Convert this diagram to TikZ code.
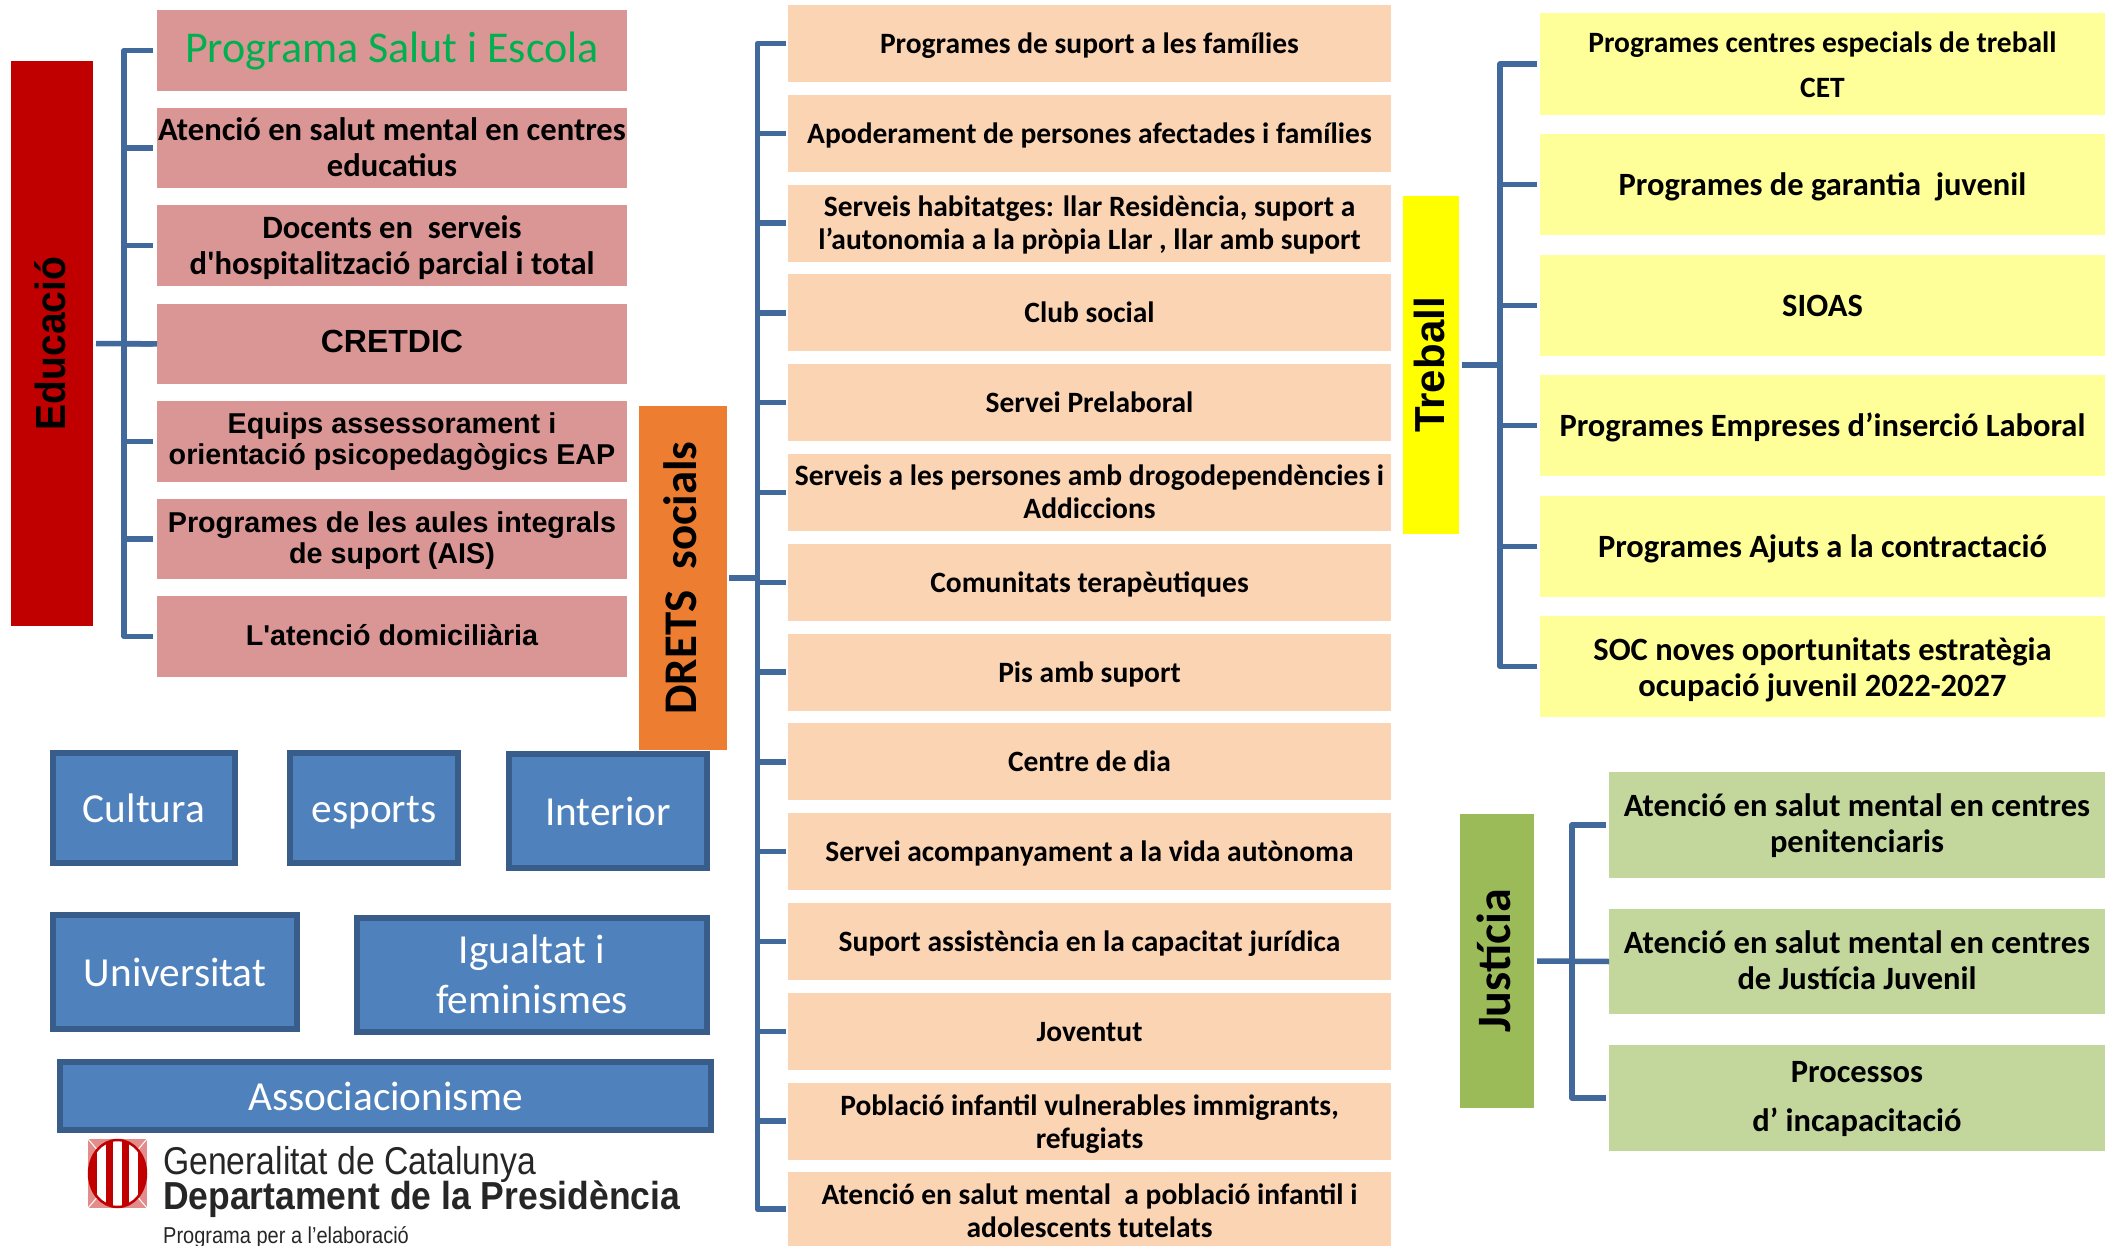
\documentclass[tikz,border=0pt]{standalone}
\usepackage{graphicx}
\usepackage{fontspec}
\setmainfont{Carlito}
\newfontfamily\cb{Carlito}[BoldFont=Carlito Bold]
\newfontfamily\ar{Liberation Sans}
\newcommand{\fs}[2]{\fontsize{#1}{#2}\selectfont}
\newcommand{\lowstrut}{\rule[-.2\baselineskip]{0pt}{\baselineskip}}
\newcommand{\topx}[1]{\rule{0pt}{#1pt}}
\definecolor{conn}{HTML}{41699C}
\definecolor{pinkb}{HTML}{D99694}
\definecolor{peach}{HTML}{FBD4B4}
\definecolor{yelb}{HTML}{FFFF99}
\definecolor{yelroot}{HTML}{FFFF00}
\definecolor{grnb}{HTML}{C3D69B}
\definecolor{grnroot}{HTML}{9BBB59}
\definecolor{orangeroot}{HTML}{ED7D31}
\definecolor{salut}{HTML}{00B050}
\definecolor{bluef}{HTML}{4F81BD}
\definecolor{blued}{HTML}{385D8A}
\definecolor{catred}{HTML}{C00000}
\newcommand{\bx}[7][]{%
  \pgfmathsetmacro\bw{#5-#3}\pgfmathsetmacro\bh{#6-#4}%
  \node[#1,minimum width=\bw pt,minimum height=\bh pt] (#2) at ({(#3+#5)/2},{-(#4+#6)/2}) {#7};}
\newcommand{\rx}[7][]{%
  \pgfmathsetmacro\bw{#5-#3}\pgfmathsetmacro\bh{#6-#4}%
  \node[#1,rotate=90,minimum width=\bh pt,minimum height=\bw pt] (#2) at ({(#3+#5)/2},{-(#4+#6)/2}) {#7};}
\tikzset{
  base/.style={inner sep=0pt,outer sep=0pt,align=center,text=black,execute at begin node=\lowstrut,execute at end node=\lowstrut},
  pinkbox/.style={base,fill=pinkb},
  peachbox/.style={base,fill=peach,font=\cb\bfseries\fs{29.5}{33}},
  yelbox/.style={base,fill=yelb,font=\cb\bfseries\fs{32.5}{36}},
  grnbox/.style={base,fill=grnb,font=\cb\bfseries\fs{32.5}{36}},
  bluebox/.style={base,fill=bluef,draw=blued,line width=5.5pt,text=white,font=\cb\fs{41.3}{47}},
  rootbox/.style={base,font=\ar\bfseries\fs{42}{44}},
  cline/.style={draw=conn,line width=5.5pt,line join=round},
  logotext/.style={inner sep=0pt,anchor=west,text=black!85}
}
\begin{document}
\begin{tikzpicture}[x=1pt,y=1pt]
\useasboundingbox (0,0) rectangle (2110,-1246);
% Educacio
\rx[rootbox,fill=catred,font=\ar\bfseries\fs{39}{44}]{edu}{11}{61}{93}{626}{\scalebox{1}[1.08]{Educació}}
\bx[pinkbox,text=salut,font=\cb\fs{44}{41}]{e1}{157}{10}{627}{91}{Programa Salut i Escola}
\bx[pinkbox,font=\cb\bfseries\fs{32.6}{36}]{e2}{157}{108}{627}{188}{\topx{28.3}Atenció en salut mental en centres\\educatius}
\bx[pinkbox,font=\cb\bfseries\fs{32.6}{36}]{e3}{157}{205}{627}{286}{\topx{29.3}Docents en\ \ serveis\\d'hospitalització parcial i total}
\bx[pinkbox,font=\ar\bfseries\fs{32}{28}]{e4}{157}{304}{627}{384}{CRETDIC}
\bx[pinkbox,font=\ar\bfseries\fs{28.7}{31}]{e5}{157}{401}{627}{482}{Equips assessorament i\\orientació psicopedagògics EAP}
\bx[pinkbox,font=\ar\bfseries\fs{28.7}{31}]{e6}{157}{499}{627}{579}{\topx{24}Programes de les aules integrals\\de suport (AIS)}
\bx[pinkbox,font=\ar\bfseries\fs{28.7}{31}]{e7}{157}{596}{627}{677}{L'atenció domiciliària}
\coordinate (eb) at (124,-343.5);
\draw[cline] (edu.south) ++(3,0) -- (e4.west);
\foreach \n in {e1,e2,e3,e5,e6,e7} \draw[cline,shorten >=4pt] (eb) |- (\n.west);
\draw[cline,shorten >=4pt] (eb) -- (e4.west);
% Drets
\rx[rootbox,fill=orangeroot,font=\cb\bfseries\fs{46.8}{44}]{dr}{639}{406}{727}{750}{DRETS\ \ socials}
\foreach \i/\t in {0/{Programes de suport a les famílies},
  1/{Apoderament de persones afectades i famílies},
  2/{\topx{26.3}Serveis habitatges: llar Residència, suport a\\l’autonomia a la pròpia Llar , llar amb suport},
  3/{Club social},
  4/{Servei Prelaboral},
  5/{\topx{25}Serveis a les persones amb drogodependències i\\Addiccions},
  6/{Comunitats terapèutiques},
  7/{Pis amb suport},
  8/{Centre de dia},
  9/{Servei acompanyament a la vida autònoma},
  10/{Suport assistència en la capacitat jurídica},
  11/{Joventut},
  12/{\topx{27.7}Població infantil vulnerables immigrants,\\refugiats},
  13/{\topx{30.3}Atenció en salut mental\ \ a població infantil i\\adolescents tutelats}}{
  \pgfmathsetmacro\ya{5+89.8*\i}
  \pgfmathsetmacro\yb{min(\ya+77,1246)}
  \bx[peachbox]{m\i}{788}{\ya}{1391}{\yb}{\t}
}
\coordinate (db) at (757.5,-578);
\draw[cline] (dr.south) ++(2,0) -- (db);
\foreach \i in {0,...,13} \draw[cline,shorten >=2.5pt] (db) |- (m\i.west);
% Treball
\rx[rootbox,fill=yelroot]{tr}{1403}{196}{1459}{534}{Treball}
\bx[yelbox,font=\cb\bfseries\fs{29.5}{45}]{t1}{1540}{13}{2105}{115}{\topx{31}Programes centres especials de treball\\CET}
\bx[yelbox]{t2}{1540}{134}{2105}{235}{Programes de garantia\ \ juvenil}
\bx[yelbox]{t3}{1540}{255}{2105}{356}{SIOAS}
\bx[yelbox]{t4}{1540}{375}{2105}{476}{Programes Empreses d’inserció Laboral}
\bx[yelbox]{t5}{1540}{496}{2105}{597}{Programes Ajuts a la contractació}
\bx[yelbox]{t6}{1540}{616}{2105}{717}{\topx{31}SOC noves oportunitats estratègia\\ocupació juvenil 2022-2027}
\coordinate (tb) at (1500,-365);
\draw[cline] (tr.south) ++(3,0) -- (tb);
\foreach \n in {t1,t2,t3,t4,t5,t6} \draw[cline,shorten >=3pt] (tb) |- (\n.west);
% Justicia
\rx[rootbox,fill=grnroot,font=\cb\bfseries\fs{48}{44}]{ju}{1460}{814}{1534}{1108}{Justícia}
\bx[grnbox]{j1}{1609}{772}{2105}{878}{\topx{25.8}Atenció en salut mental en centres\\penitenciaris}
\bx[grnbox]{j2}{1609}{909}{2105}{1014}{\topx{27}Atenció en salut mental en centres\\de Justícia Juvenil}
\bx[grnbox,font=\cb\bfseries\fs{32.5}{49}]{j3}{1609}{1045}{2105}{1151}{\topx{28.4}Processos\\d’ incapacitació}
\coordinate (jb) at (1572,-961);
\draw[cline] (ju.south) ++(3,0) -- (j2.west);
\foreach \n in {j1,j3} \draw[cline,shorten >=3pt] (jb) |- (\n.west);
% Blue boxes
\bx[bluebox]{c1}{53}{753}{235}{863}{Cultura}
\bx[bluebox]{c2}{290}{753}{458}{863}{esports}
\bx[bluebox]{c3}{509}{754}{707}{868}{Interior}
\bx[bluebox]{c4}{53}{915}{297}{1029}{Universitat}
\bx[bluebox,font=\cb\fs{41.3}{50}]{c5}{357}{918}{707}{1032}{\topx{37.6}Igualtat i\\feminismes}
\bx[bluebox]{c6}{60}{1062}{711}{1130}{Associacionisme}
% Logo
\fill[catred] (88,-1139) rectangle (147,-1208);
\fill[white,opacity=.55] (88,-1139) rectangle (147,-1208);
\foreach \a/\b in {88/1139,147/1139,88/1208,147/1208}
  \draw[white,line width=1pt] (\a,-\b) -- (117.5,-1173.5);
\fill[white] (117.5,-1173.5) ellipse [x radius=29.5,y radius=34];
\begin{scope}
\clip (117.5,-1173.5) ellipse [x radius=29,y radius=33.5];
\foreach \x in {93.5,109.5,125.5,141.5} \fill[catred] (\x-3.5,-1135) rectangle (\x+3.5,-1212);
\end{scope}
\draw[catred,line width=2.5pt] (117.5,-1173.5) ellipse [x radius=28.5,y radius=33.5];
\node[logotext,font=\ar\fs{33.7}{40}] (lg1) at (163,-1164.5) {\scalebox{1}[1.15]{Generalitat de Catalunya}};
\node[logotext,font=\ar\bfseries\fs{35.5}{40}] (lg2) at (163,-1199.5) {\scalebox{1}[1.1]{Departament de la Presidència}};
\node[logotext,font=\ar\fs{20}{26}] (lg3) at (163,-1237) {\scalebox{1}[1.15]{Programa per a l’elaboració}};
\end{tikzpicture}
\end{document}
